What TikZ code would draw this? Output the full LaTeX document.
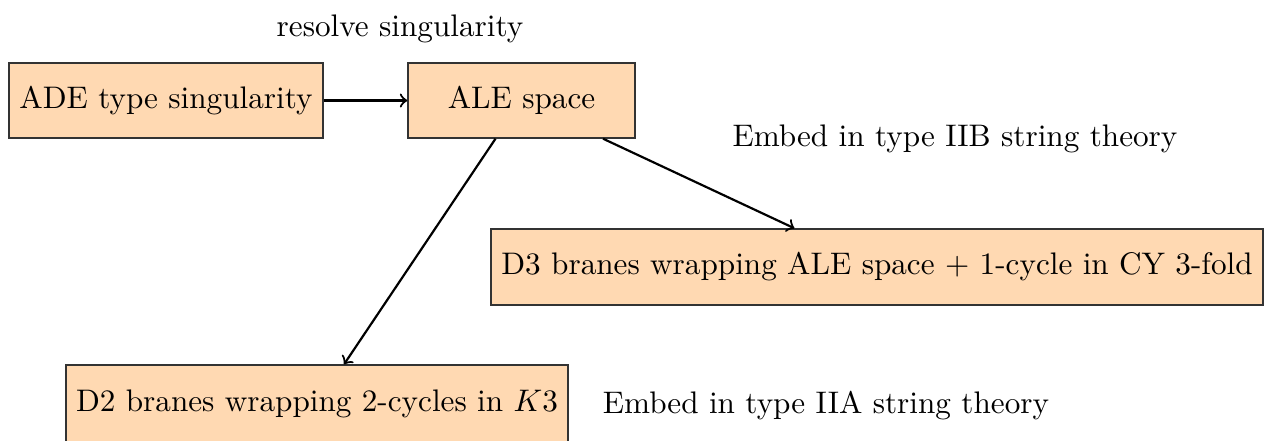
\documentclass[tikz,border=0pt]{standalone}
\begin{document}
\begin{tikzpicture}[x=0.3206pt,y=-0.3206pt,
  box/.style={draw=black!80,fill=orange!30,inner sep=2pt,minimum height=24.1pt},
  lbl/.style={inner sep=0pt},
  arr/.style={->,line width=0.7pt}]
\useasboundingbox (0,0) rectangle (1265,440);
\node[box,minimum width=100.7pt] (ADE) at (166,100.5) {ADE type singularity};
\node[box,minimum width=72.8pt] (ALE) at (521.5,100.5) {ALE space};
\node[box,minimum width=247.5pt,minimum height=24.4pt] (D3) at (877,267) {D3 branes wrapping ALE space + 1-cycle in CY 3-fold};
\node[box,minimum width=160.9pt,minimum height=24.7pt] (D2) at (317,403.5) {D2 branes wrapping 2-cycles in $K3$};
\node[lbl] (l1) at (400,28.5) {resolve singularity};
\node[lbl] (l2) at (955,139) {Embed in type IIB string theory};
\node[lbl] (l3) at (826,406) {Embed in type IIA string theory};
\coordinate (ALEs) at ([xshift=-26*0.3206pt]ALE.south);
\coordinate (D2n) at ([xshift=27*0.3206pt]D2.north);
\draw[arr] (ADE) -- (ALE);
\draw[arr] (ALE) -- (D3);
\draw[arr] (ALEs) -- (D2n);
\end{tikzpicture}
\end{document}
